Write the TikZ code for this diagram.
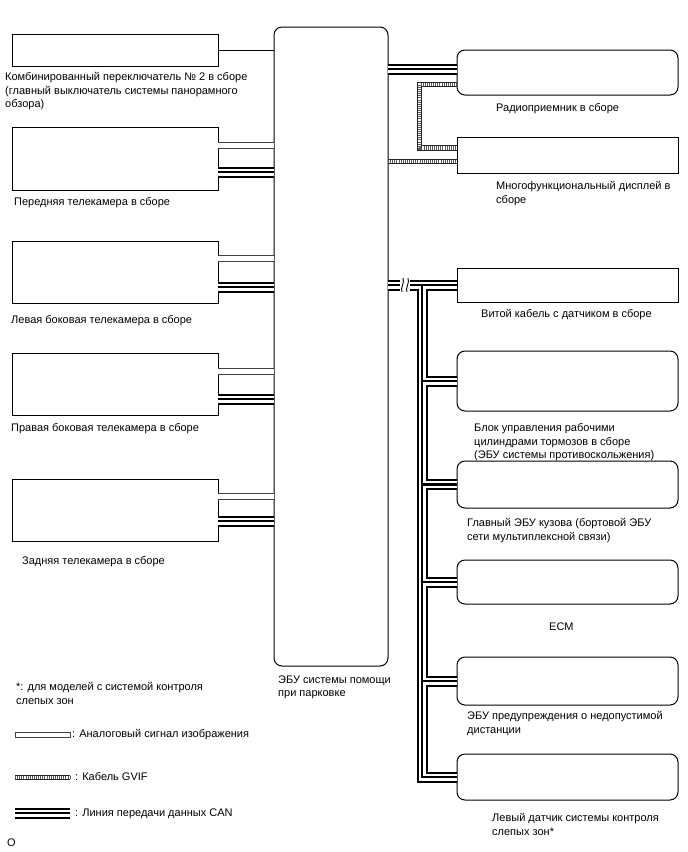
\documentclass[tikz,border=0pt]{standalone}
\usepackage{fontspec}
\setmainfont{Liberation Sans}
\usetikzlibrary{calc}
\begin{document}
\begin{tikzpicture}[x=1pt,y=-1pt,
  box/.style={draw, line width=1pt, inner sep=0pt, outer sep=0pt, anchor=north west, fill=white},
  rbox/.style={box, rounded corners=8pt},
  lbl/.style={anchor=north west, inner sep=0pt, align=left, font=\fontsize{11}{13.5}\selectfont},
  analog/.style={draw=white, line width=5pt, preaction={draw=black!75, line width=7pt}},
  gvif/.style={draw=white, line width=3.6pt, preaction={draw=black!85, line width=5.6pt}, postaction={draw=black!65, line width=3.6pt, dash pattern=on 0.8pt off 1.3pt}},
  can/.style={draw=black, line width=2.2pt, preaction={draw=black, line width=11pt}, preaction={draw=white, line width=7pt}},
  plain/.style={draw, line width=0.8pt}]
\fill[white] (0,0) rectangle (688,852);
\path[use as bounding box] (0,0) rectangle (688,852);

% left boxes
\node[box, minimum width=206pt, minimum height=32pt] (sw) at (12,34) {};
\node[box, minimum width=206pt, minimum height=63pt] (fc) at (12,127) {};
\node[box, minimum width=206pt, minimum height=62pt] (lc) at (12,241) {};
\node[box, minimum width=206pt, minimum height=62pt] (rc) at (12,353) {};
\node[box, minimum width=206pt, minimum height=62pt] (bc) at (12,479) {};
% central ECU
\node[rbox, minimum width=114pt, minimum height=639pt] (ecu) at (274,27) {};
% right boxes
\node[rbox, minimum width=221pt, minimum height=45pt] (radio) at (457,50) {};
\node[box, minimum width=221pt, minimum height=36pt] (disp) at (457,137) {};
\node[box, minimum width=221pt, minimum height=34pt] (twc) at (457,268) {};
\node[rbox, minimum width=221pt, minimum height=60pt] (brake) at (457,351) {};
\node[rbox, minimum width=221pt, minimum height=47pt] (body) at (457,461) {};
\node[rbox, minimum width=221pt, minimum height=44pt] (ecm) at (457,560) {};
\node[rbox, minimum width=221pt, minimum height=48pt] (warn) at (457,657) {};
\node[rbox, minimum width=221pt, minimum height=46pt] (bsm) at (457,754) {};

% labels
\node[lbl] (lsw) at (5,72.5) {Комбинированный переключатель № 2 в сборе\\(главный выключатель системы панорамного\\обзора)};
\node[lbl] (lfc) at (14,197.5) {Передняя телекамера в сборе};
\node[lbl] (llc) at (11,315.5) {Левая боковая телекамера в сборе};
\node[lbl] (lrc) at (11,423.5) {Правая боковая телекамера в сборе};
\node[lbl] (lbc) at (22,556.5) {Задняя телекамера в сборе};
\node[lbl] (lecu) at (278,675.5) {ЭБУ системы помощи\\при парковке};
\node[lbl] (lradio) at (496,103.5) {Радиоприемник в сборе};
\node[lbl] (ldisp) at (496,181.5) {Многофункциональный дисплей в\\сборе};
\node[lbl] (ltwc) at (481,309.5) {Витой кабель с датчиком в сборе};
\node[lbl] (lbrake) at (474,423.5) {Блок управления рабочими\\цилиндрами тормозов в сборе\\(ЭБУ системы противоскольжения)};
\node[lbl] (lbody) at (467,518.5) {Главный ЭБУ кузова (бортовой ЭБУ\\сети мультиплексной связи)};
\node[lbl] (lecm) at (549,622.5) {ECM};
\node[lbl] (lwarn) at (467,711.5) {ЭБУ предупреждения о недопустимой\\дистанции};
\node[lbl] (lbsm) at (492,813.5) {Левый датчик системы контроля\\слепых зон*};
\node[lbl] (lnote) at (16,682.5) {*: для моделей с системой контроля\\слепых зон};

% left connectors
\draw[plain] (sw.east) -- (sw.east -| ecu.west);
\draw[analog] ($(fc.east)+(0,-13.5)$) -- ($(fc.east -| ecu.west)+(0,-13.5)$);
\draw[can] ($(fc.east)+(0,13.5)$) -- ($(fc.east -| ecu.west)+(0,13.5)$);
\draw[analog] ($(lc.east)+(0,-14)$) -- ($(lc.east -| ecu.west)+(0,-14)$);
\draw[can] ($(lc.east)+(0,15)$) -- ($(lc.east -| ecu.west)+(0,15)$);
\draw[analog] ($(rc.east)+(0,-13)$) -- ($(rc.east -| ecu.west)+(0,-13)$);
\draw[can] ($(rc.east)+(0,15)$) -- ($(rc.east -| ecu.west)+(0,15)$);
\draw[analog] ($(bc.east)+(0,-14)$) -- ($(bc.east -| ecu.west)+(0,-14)$);
\draw[can] ($(bc.east)+(0,11)$) -- ($(bc.east -| ecu.west)+(0,11)$);

% right upper connectors
\draw[can] (ecu.east |- 0,69) -- (radio.west |- 0,69);
\coordinate (g1) at (419.5,84.5);
\coordinate (g2) at (419.5,148);
\draw[gvif] (radio.west |- g1) -- (g1) -- (g2) -- (disp.west |- g2);
\draw[gvif] (ecu.east |- 0,161.5) -- (disp.west |- 0,161.5);

% CAN bus
\coordinate (bt) at (422,285);
\coordinate (bb) at (422,777);
\draw[can] (ecu.east |- twc.west) -- (twc.west)
  (bt) -- (bb) -- (bsm.west)
  (bt |- brake.west) -- (brake.west)
  (bt |- body.west) -- (body.west)
  (bt |- ecm.west) -- (ecm.west)
  (bt |- warn.west) -- (warn.west);
% break mark
\fill[white] (400,278) rectangle (410,292);
\draw[line width=0.9pt] (403,278) .. controls (405,283) and (400,288) .. (402,292);
\draw[line width=0.9pt] (408,278) .. controls (410,283) and (405,288) .. (407,292);

% legend
\draw[line width=0.8pt, draw=black!75] (15,732) rectangle (70,737);
\node[lbl, anchor=west] (tan) at (72,734.5) {: Аналоговый сигнал изображения};
\coordinate (lg1) at (15,777.5);
\coordinate (lg2) at (70,777.5);
\draw[gvif] (lg1) -- (lg2);
\node[lbl, anchor=west] (tgv) at (75,777) {: Кабель GVIF};
\coordinate (lc1) at (15,813);
\coordinate (lc2) at (70,813);
\draw[can] (lc1) -- (lc2);
\node[lbl, anchor=west] (tcan) at (75,814) {: Линия передачи данных CAN};
\node[lbl, anchor=west] (lo) at (7,843) {O};
\end{tikzpicture}
\end{document}
